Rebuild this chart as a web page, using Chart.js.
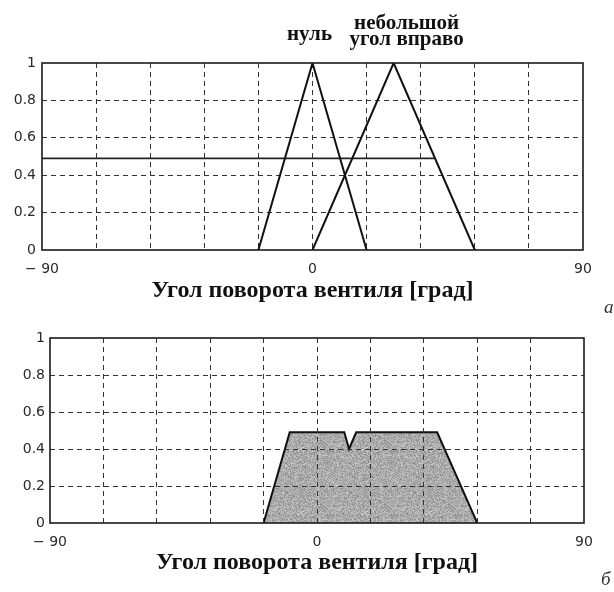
<!DOCTYPE html>
<html>
<head>
<meta charset="utf-8">
<script src="https://cdn.jsdelivr.net/npm/chart.js@4/dist/chart.umd.min.js"></script>
<style>
  html, body { margin: 0; padding: 0; background: #fff; width: 614px; height: 592px; overflow: hidden; }
  .panel { position: absolute; left: 0; width: 614px; }
  #panelA { top: 0; height: 310px; }
  #panelB { top: 310px; height: 282px; }
  .mark { position: absolute; font-family: "Liberation Serif", serif; font-style: italic; font-size: 19px; color: #333; }
</style>
</head>
<body>
<div class="panel" id="panelA"><canvas id="chartA"></canvas></div>
<div class="panel" id="panelB"><canvas id="chartB"></canvas></div>
<div class="mark" style="left:604px;top:296px;">а</div>
<div class="mark" style="left:601px;top:568px;">б</div>
<script>
// Valve angle universe and membership grades
const angleMin = -90;
const angleMax = 90;
const angleStep = 18;
const gradeStep = 0.2;

// Term "нуль"
const zeroX = [-18, 0, 18];
const zeroMu = [0, 1, 0];

// Term "небольшой угол вправо"
const smallRightX = [0, 27, 54];
const smallRightMu = [0, 1, 0];

// Activation level of the rule output
const cutX = [-90, 40.5];
const cutMu = [0.49, 0.49];

// Aggregated (clipped) output set
const outX = [-18, -9.2, 9.2, 10.8, 13.2, 40.5, 54];
const outMu = [0, 0.49, 0.49, 0.4, 0.49, 0.49, 0];

// Text
const xTickLabels = { '-90': '\u2212 90', '0': '0', '90': '90' };
const yTickLabels = ['0', '0.2', '0.4', '0.6', '0.8', '1'];
const axisTitle = 'Угол поворота вентиля [град]';
const zeroName = ['нуль'];
const smallRightName = ['небольшой', 'угол вправо'];

const toPoints = (xs, ys) => xs.map((x, i) => ({ x: x, y: ys[i] }));

// Speckled grey used to shade the output set
function speckle() {
  const size = 64;
  const c = document.createElement('canvas');
  c.width = size; c.height = size;
  const g = c.getContext('2d');
  const img = g.createImageData(size, size);
  for (let j = 0; j < size; j++) {
    for (let i = 0; i < size; i++) {
      const s = Math.sin(i * 12.9898 + j * 78.233) * 43758.5453;
      const f = s - Math.floor(s);
      const v = Math.round(140 + f * 60);
      const k = (j * size + i) * 4;
      img.data[k] = v; img.data[k + 1] = v; img.data[k + 2] = v; img.data[k + 3] = 255;
    }
  }
  g.putImageData(img, 0, 0);
  return g.createPattern(c, 'repeat');
}

// Closed frame around the plotting area
const frame = {
  id: 'frame',
  afterDraw(chart) {
    const a = chart.chartArea, ctx = chart.ctx;
    ctx.save();
    ctx.strokeStyle = '#1a1a1a';
    ctx.lineWidth = 1.6;
    ctx.setLineDash([]);
    ctx.strokeRect(a.left, a.top, a.right - a.left, a.bottom - a.top);
    ctx.restore();
  }
};

// Term names written above the peaks
const termNames = {
  id: 'termNames',
  afterDraw(chart, args, opts) {
    if (!opts.items) return;
    const ctx = chart.ctx, xs = chart.scales.x;
    ctx.save();
    ctx.font = opts.font;
    ctx.fillStyle = '#111';
    ctx.textAlign = 'center';
    ctx.textBaseline = 'middle';
    opts.items.forEach(it => {
      const px = xs.getPixelForValue(it.at) + it.dx;
      it.lines.forEach((line, i) => ctx.fillText(line, px, it.y + i * opts.lineGap));
    });
    ctx.restore();
  }
};

const edgeX = v => v === angleMin || v === angleMax;
const edgeY = v => Math.abs(v) < 1e-9 || Math.abs(v - 1) < 1e-9;
const gridColor = '#333';
const dash = [5, 4];
const tickFont = { family: 'DejaVu Sans', size: 14 };

function makeScales(o) {
  return {
    x: {
      type: 'linear', min: angleMin, max: angleMax,
      afterFit(s) { s.height = o.xHeight; },
      ticks: {
        stepSize: angleStep, autoSkip: false, maxRotation: 0, padding: o.xPad,
        color: '#2a2a2a', font: tickFont,
        callback: v => (xTickLabels[String(v)] !== undefined ? xTickLabels[String(v)] : '')
      },
      grid: {
        z: o.gridZ, drawTicks: false, lineWidth: 1, borderDash: dash,
        color: c => (c.tick && edgeX(c.tick.value) ? 'rgba(0,0,0,0)' : gridColor)
      },
      border: { display: false, dash: dash },
      title: {
        display: true, text: axisTitle, color: '#111',
        font: { family: 'Liberation Serif', size: 24, weight: 'bold' },
        padding: { top: 0, bottom: o.titlePad }
      }
    },
    y: {
      min: 0, max: 1,
      afterFit(s) { s.width = o.yWidth; },
      ticks: {
        stepSize: gradeStep, padding: o.yPad,
        color: '#2a2a2a', font: tickFont,
        callback: (v, i) => yTickLabels[i]
      },
      grid: {
        z: o.gridZ, drawTicks: false, lineWidth: 1, borderDash: dash,
        color: c => (c.tick && edgeY(c.tick.value) ? 'rgba(0,0,0,0)' : gridColor)
      },
      border: { display: false, dash: dash }
    }
  };
}

const common = {
  responsive: true,
  maintainAspectRatio: false,
  animation: false,
  events: [],
  elements: { point: { radius: 0 }, line: { tension: 0 } }
};

new Chart(document.getElementById('chartA'), {
  type: 'line',
  data: {
    datasets: [
      { data: toPoints(zeroX, zeroMu), borderColor: '#111', borderWidth: 2, fill: false },
      { data: toPoints(smallRightX, smallRightMu), borderColor: '#111', borderWidth: 2, fill: false },
      { data: toPoints(cutX, cutMu), borderColor: '#222', borderWidth: 1.8, fill: false }
    ]
  },
  options: Object.assign({}, common, {
    layout: { padding: { left: 0, right: 31, top: 63, bottom: 0 } },
    scales: makeScales({ gridZ: -1, xHeight: 60, xPad: 11, yWidth: 42, yPad: 6, titlePad: 5 }),
    plugins: {
      legend: { display: false },
      tooltip: { enabled: false },
      termNames: {
        font: 'bold 21px "Liberation Serif"', lineGap: 16,
        items: [
          { at: 0, dx: -3, y: 35, lines: zeroName },
          { at: 27, dx: 13, y: 24, lines: smallRightName }
        ]
      }
    }
  }),
  plugins: [frame, termNames]
});

new Chart(document.getElementById('chartB'), {
  type: 'line',
  data: {
    datasets: [
      { data: toPoints(outX, outMu), borderColor: '#111', borderWidth: 2, fill: 'origin', backgroundColor: speckle() }
    ]
  },
  options: Object.assign({}, common, {
    layout: { padding: { left: 0, right: 30, top: 28, bottom: 0 } },
    scales: makeScales({ gridZ: 1, xHeight: 69, xPad: 11, yWidth: 50, yPad: 5, titlePad: 15 }),
    plugins: { legend: { display: false }, tooltip: { enabled: false } }
  }),
  plugins: [frame, termNames]
});
</script>
</body>
</html>
